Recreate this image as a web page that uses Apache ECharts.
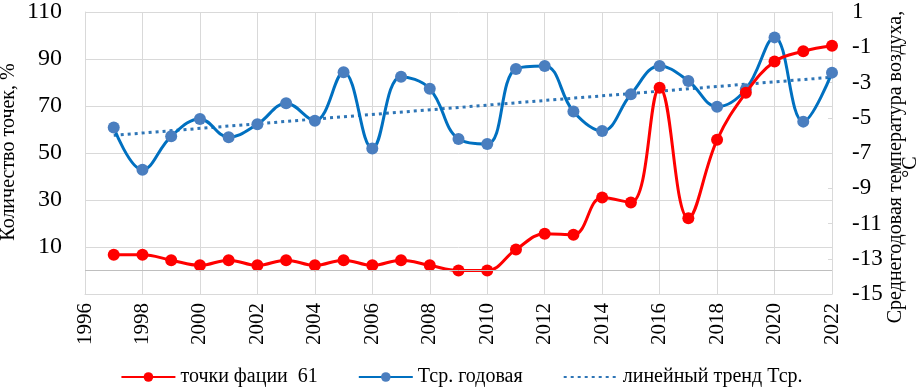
<!DOCTYPE html>
<html>
<head>
<meta charset="utf-8">
<script src="https://cdn.jsdelivr.net/npm/echarts@6/dist/echarts.min.js"></script>
<style>
  html, body { margin: 0; padding: 0; background: #fff; }
  #chart { width: 923px; height: 388px; }
</style>
</head>
<body>
<div id="chart"></div>
<script>
// years on the x axis
var years = [1997, 1998, 1999, 2000, 2001, 2002, 2003, 2004, 2005, 2006, 2007, 2008, 2009,
             2010, 2011, 2012, 2013, 2014, 2015, 2016, 2017, 2018, 2019, 2020, 2021, 2022];
// "точки фации 61", % (left axis)
var faciesPoints = [6.7, 6.7, 4.4, 2.2, 4.4, 2.2, 4.4, 2.2, 4.4, 2.2, 4.4, 2.2, 0,
                    0, 8.9, 15.6, 15.2, 31.1, 28.9, 77.8, 22.2, 55.6, 75.6, 88.9, 93.3, 95.6];
// mean annual air temperature, °C (right axis)
var tempYear = [-5.55, -7.95, -6.05, -5.07, -6.1, -5.37, -4.18, -5.17, -2.42, -6.74, -2.67, -3.35, -6.2,
                -6.49, -2.23, -2.06, -4.65, -5.75, -3.67, -2.06, -2.91, -4.37, -3.39, -0.44, -5.22, -2.44];
// linear trend end points
var trendYears = [1997, 2022];
var trendTemp = [-6.0, -2.7];

var seriesNames = ['точки фации  61', 'Тср. годовая', 'линейный тренд Тср.'];

function pairs(xs, ys) {
    return xs.map(function (x, i) { return [x, ys[i]]; });
}

var font = 'Liberation Serif';
var gridColor = '#d9d9d9';

// vertical title text, reads bottom-to-top
function vTitle(x, y, text) {
    return {
        type: 'text', x: x, y: y, rotation: Math.PI / 2,
        style: { text: text, font: '20px ' + font, fill: '#000',
                 align: 'center', verticalAlign: 'middle' }
    };
}

var option = {
    animation: false,
    textStyle: { fontFamily: font },
    grid: { left: 85, right: 91, top: 12, bottom: 94, outerBoundsMode: 'none' },
    graphic: [
        vTitle(9, 152, 'Количество точек, %'),
        vTitle(896, 167, 'Среднегодовая температура воздуха,'),
        vTitle(911, 167, '°C')
    ],
    legend: {
        bottom: -4,
        left: 'center',
        itemGap: 40,
        itemWidth: 54,
        itemHeight: 12,
        textStyle: { fontFamily: font, fontSize: 20, color: '#000' },
        data: [
            seriesNames[0],
            seriesNames[1],
            { name: seriesNames[2], itemStyle: { opacity: 0 } }
        ]
    },
    xAxis: {
        type: 'value',
        min: 1996,
        max: 2022,
        interval: 2,
        axisLine: { onZero: false, lineStyle: { color: gridColor } },
        axisTick: { show: false },
        splitLine: { show: true, lineStyle: { color: gridColor } },
        axisLabel: {
            rotate: 90,
            margin: 9,
            fontFamily: font,
            fontSize: 21,
            color: '#000',
            formatter: function (v) { return String(v); }
        }
    },
    yAxis: [
        {
            type: 'value',
            min: -10,
            max: 110,
            interval: 20,
            axisLine: { show: true, lineStyle: { color: gridColor } },
            axisTick: { show: false },
            splitLine: { show: true, lineStyle: { color: gridColor } },
            axisLabel: {
                margin: 23,
                fontFamily: font,
                fontSize: 24,
                color: '#000',
                formatter: function (v) { return v < 0 ? '' : String(v); }
            }
        },
        {
            type: 'value',
            min: -15,
            max: 1,
            interval: 2,
            position: 'right',
            axisLine: { show: true, lineStyle: { color: gridColor } },
            axisTick: { show: true, inside: true, length: 4, lineStyle: { color: gridColor } },
            splitLine: { show: false },
            axisLabel: {
                margin: 20,
                fontFamily: font,
                fontSize: 23,
                color: '#000'
            }
        }
    ],
    series: [
        {
            name: seriesNames[0],
            type: 'line',
            yAxisIndex: 0,
            smooth: 0.4,
            symbol: 'circle',
            symbolSize: 12,
            data: pairs(years, faciesPoints),
            lineStyle: { color: '#ff0000', width: 3 },
            itemStyle: { color: '#ff0000' },
            z: 4,
            markLine: {
                silent: true,
                symbol: 'none',
                label: { show: false },
                lineStyle: { color: '#bfbfbf', width: 1, type: 'solid' },
                data: [{ yAxis: 0 }]
            }
        },
        {
            name: seriesNames[1],
            type: 'line',
            yAxisIndex: 1,
            smooth: 0.4,
            symbol: 'circle',
            symbolSize: 12,
            data: pairs(years, tempYear),
            lineStyle: { color: '#0070c0', width: 3 },
            itemStyle: { color: '#4a7ebf' },
            z: 3
        },
        {
            name: seriesNames[2],
            type: 'line',
            yAxisIndex: 1,
            symbol: 'none',
            data: pairs(trendYears, trendTemp),
            lineStyle: { color: '#2e75b6', width: 3, type: [3, 4] },
            itemStyle: { color: '#2e75b6' },
            z: 2
        }
    ]
};

var chart = echarts.init(document.getElementById('chart'));
chart.setOption(option);
</script>
</body>
</html>
